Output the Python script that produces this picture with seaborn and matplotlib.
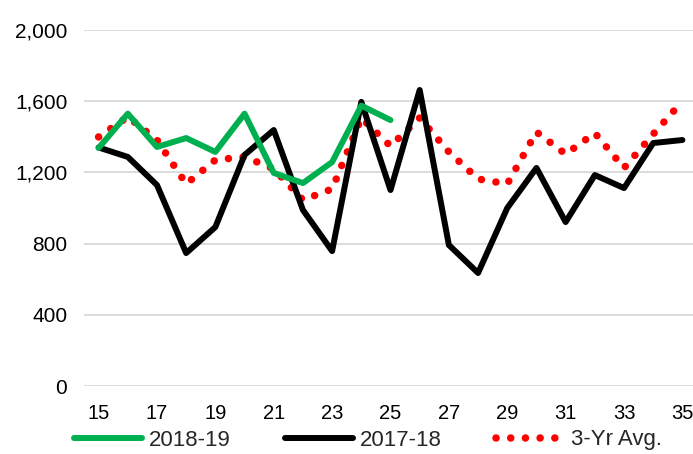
import pandas as pd
import seaborn as sns
import matplotlib.pyplot as plt

weeks = list(range(15, 36))
weeks_1819 = list(range(15, 26))
vals_1819 = [1337, 1530, 1343, 1393, 1315, 1530, 1197, 1140, 1258, 1575, 1494]
vals_1718 = [1340, 1287, 1129, 747, 893, 1298, 1438, 989, 758, 1596, 1101,
             1663, 792, 635, 1000, 1225, 921, 1185, 1112, 1365, 1382]
vals_avg = [1399, 1512, 1382, 1135, 1270, 1287, 1220, 1045, 1107, 1506, 1348,
            1506, 1315, 1163, 1135, 1427, 1303, 1421, 1225, 1415, 1600]
xtick_labels = list(range(15, 36, 2))
ytick_vals = [0, 400, 800, 1200, 1600, 2000]

df_new = pd.DataFrame({"week": weeks_1819, "value": vals_1819})
df_old = pd.DataFrame({"week": weeks, "value": vals_1718})
df_avg = pd.DataFrame({"week": weeks, "value": vals_avg})

sns.set_style("white")
plt.rcParams["font.family"] = ["Liberation Sans", "DejaVu Sans"]

fig = plt.figure(figsize=(6.93, 4.54), dpi=100)
ax = fig.add_axes([84 / 693, 68 / 454, 613 / 693, 356 / 454])

sns.lineplot(data=df_avg, x="week", y="value", ax=ax, color="#ff0000", lw=5.4,
             linestyle=(0, (0.01, 1.95)), dash_capstyle="round", label="3-Yr Avg.", zorder=2)
sns.lineplot(data=df_old, x="week", y="value", ax=ax, color="black", lw=4.3,
             label="2017-18", zorder=3)
sns.lineplot(data=df_new, x="week", y="value", ax=ax, color="#00b050", lw=4.3,
             label="2018-19", zorder=4)

ax.set_xlim(14.5, 35.5)
ax.set_ylim(0, 2000)
ax.set_xticks(xtick_labels)
ax.set_yticks(ytick_vals)
ax.set_yticklabels([f"{v:,}" for v in ytick_vals])
ax.set_xlabel("")
ax.set_ylabel("")
ax.grid(axis="y", color="#d9d9d9", lw=1.3)
ax.set_axisbelow(True)
for s in ax.spines.values():
    s.set_visible(False)
ax.tick_params(axis="both", length=0, colors="black")
ax.tick_params(axis="x", labelsize=14.5, pad=13)
ax.tick_params(axis="y", labelsize=15, pad=12)

handles, labels = ax.get_legend_handles_labels()
ax.get_legend().remove()
order = [2, 1, 0]
fig.legend([handles[i] for i in order], [labels[i] for i in order],
           loc="center", bbox_to_anchor=(0.531, 14 / 454), ncol=3, frameon=False,
           fontsize=16, handlelength=3.05, handletextpad=0.32, columnspacing=2.45,
           borderaxespad=0, borderpad=0)

fig.savefig("out.png", dpi=100)
